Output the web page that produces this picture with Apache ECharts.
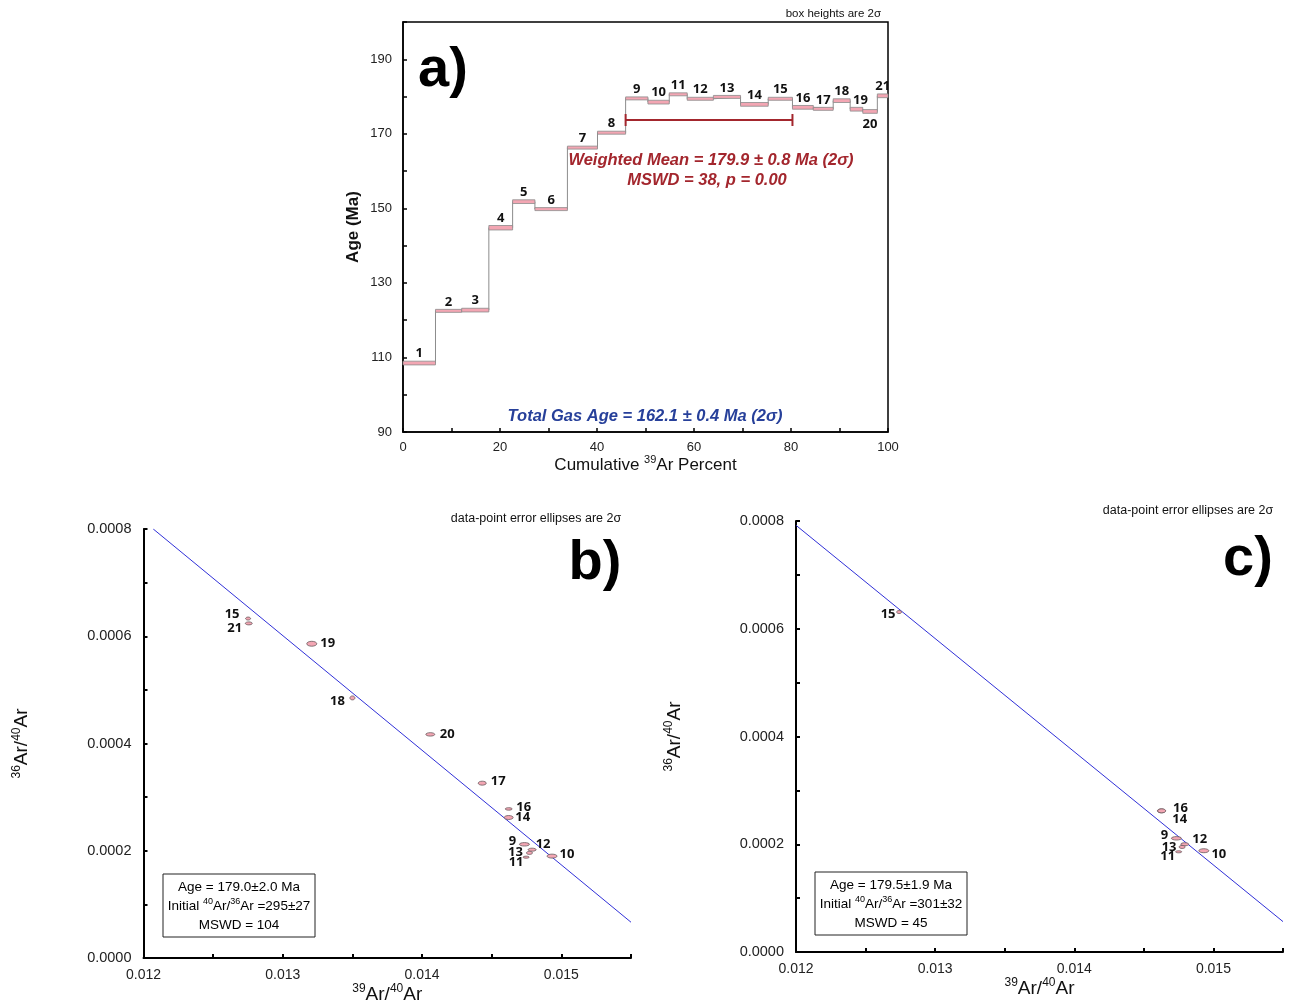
<!DOCTYPE html>
<html>
<head>
<meta charset="utf-8">
<title>Ar-Ar step heating and isochrons</title>
<script src="https://cdn.jsdelivr.net/npm/echarts@6.0.0/dist/echarts.min.js"></script>
<style>
  html, body { margin: 0; padding: 0; background: #fff; }
  #chart { width: 1293px; height: 1005px; }
</style>
</head>
<body>
<div id="chart"></div>
<script>
// ---- a) age spectrum ----
const stepNumbers = [1, 2, 3, 4, 5, 6, 7, 8, 9, 10, 11, 12, 13, 14, 15, 16, 17, 18, 19, 20, 21];
// cumulative 39Ar percent at step edges (22 values)
const cumPercent = [0, 6.7, 12.1, 17.7, 22.6, 27.2, 33.9, 40.1, 45.9, 50.5, 54.9, 58.6, 64.0, 69.6, 75.3, 80.3, 84.6, 88.7, 92.2, 94.8, 97.8, 100];
const stepAges = [108.5, 122.5, 122.7, 144.8, 151.8, 149.8, 166.3, 170.3, 179.5, 178.5, 180.6, 179.4, 179.9, 177.9, 179.4, 177.1, 176.7, 178.9, 176.6, 176.0, 180.2];
const stepErr2s = [0.5, 0.4, 0.5, 0.6, 0.5, 0.4, 0.4, 0.4, 0.4, 0.5, 0.4, 0.4, 0.4, 0.5, 0.4, 0.5, 0.4, 0.5, 0.5, 0.5, 0.5];
const plateauSteps = [9, 15];
const plateauBarAge = 173.7;

// ---- b) inverse isochron, all steps ----
const isoBSteps = [15, 21, 19, 18, 20, 17, 16, 14, 9, 12, 13, 11, 10];
const isoBx = [0.012751, 0.012756, 0.013208, 0.013500, 0.014059, 0.014432, 0.014622, 0.014622, 0.014735, 0.014790, 0.014771, 0.014747, 0.014933];
const isoBy = [0.000633, 0.000624, 0.000586, 0.000485, 0.000417, 0.000326, 0.000278, 0.000262, 0.000212, 0.000202, 0.000196, 0.000188, 0.000190];
const isoBsx = [0.000018, 0.000025, 0.000036, 0.000018, 0.000032, 0.000029, 0.000025, 0.000032, 0.000036, 0.000029, 0.000022, 0.000022, 0.000036];
const isoBsy = [0.0000028, 0.0000028, 0.0000046, 0.0000037, 0.0000032, 0.0000037, 0.0000023, 0.0000037, 0.0000032, 0.0000028, 0.0000028, 0.0000019, 0.0000037];
const fitBx = [0.01207, 0.0155];
const fitBy = [0.000800, 0.0000667];

// ---- c) inverse isochron, selected steps ----
const isoCSteps = [15, 16, 14, 9, 12, 13, 11, 10];
const isoCx = [0.012741, 0.014626, 0.014628, 0.014734, 0.014794, 0.014775, 0.014750, 0.014931];
const isoCy = [0.000631, 0.000262, 0.000262, 0.000211, 0.000200, 0.000195, 0.000186, 0.000188];
const isoCsx = [0.000018, 0.000029, 0.000029, 0.000036, 0.000029, 0.000022, 0.000022, 0.000036];
const isoCsy = [0.0000028, 0.0000037, 0.0000037, 0.0000032, 0.0000028, 0.0000028, 0.0000019, 0.0000037];
const fitCx = [0.012, 0.0155];
const fitCy = [0.000792, 0.0000564];

// label offsets in pixels (styling only)
const labelOffB = { 15: [-16, -4], 21: [-14, 5], 19: [16, 0], 18: [-15, 3], 20: [17, 0], 17: [16, -2],
  16: [15, -2], 14: [14, 0], 9: [-12, -3], 12: [11, -5], 13: [-14, -1], 11: [-10, 5], 10: [15, -2] };
const labelOffC = { 15: [-11, 2], 16: [19, -3], 14: [18, 8], 9: [-12, -3], 12: [15, -5], 13: [-13, 0],
  11: [-11, 5], 10: [15, 4] };

const SANS = '"Liberation Sans", Arial, sans-serif';
const NUMFONT = 'bold 13px "Open Sans", "Noto Sans", sans-serif';
const PINK = '#f3a6b3';

const chart = echarts.init(document.getElementById('chart'));

const supRich = (size) => ({
  n: { fontSize: size, fontFamily: SANS, color: '#111', lineHeight: size + 4, verticalAlign: 'middle' },
  s: { fontSize: Math.round(size * 0.64), fontFamily: SANS, color: '#111', verticalAlign: 'top' }
});

function isoSeries(idx, steps, xs, ys, sxs, sys, offs) {
  return {
    type: 'custom',
    xAxisIndex: idx,
    yAxisIndex: idx,
    z: 5,
    data: steps.map((s, i) => [xs[i], ys[i], sxs[i], sys[i], s]),
    renderItem(params, api) {
      const c = api.coord([api.value(0), api.value(1)]);
      const sz = api.size([api.value(2), api.value(3)]);
      const step = api.value(4);
      const off = offs[step] || [14, 0];
      return {
        type: 'group',
        children: [
          { type: 'ellipse', shape: { cx: c[0], cy: c[1], rx: sz[0], ry: sz[1] },
            style: { fill: PINK, stroke: '#6a5a5e', lineWidth: 0.8 } },
          { type: 'text', style: { x: c[0] + off[0], y: c[1] + off[1], text: String(step),
            align: 'center', verticalAlign: 'middle', font: NUMFONT, fill: '#111' } }
        ]
      };
    }
  };
}

function isoXAxis(idx) {
  return {
    gridIndex: idx, type: 'value', min: 0.012, max: 0.0155, interval: 0.0005,
    axisLine: { lineStyle: { color: '#000', width: 2 } },
    axisTick: { inside: true, length: 4, lineStyle: { color: '#000', width: 2 } },
    splitLine: { show: false },
    axisLabel: { margin: 10, fontSize: 14, fontFamily: SANS, color: '#222',
      formatter: v => Math.abs(v * 1000 - Math.round(v * 1000)) < 1e-6 ? v.toFixed(3) : '' },
    name: '{s|39}{n|Ar/}{s|40}{n|Ar}', nameLocation: 'middle', nameGap: 25,
    nameTextStyle: { rich: supRich(19) }
  };
}

function isoYAxis(idx) {
  return {
    gridIndex: idx, type: 'value', min: 0, max: 0.0008, interval: 0.0001,
    axisLine: { lineStyle: { color: '#000', width: 2 } },
    axisTick: { inside: true, length: 4, lineStyle: { color: '#000', width: 2 } },
    splitLine: { show: false },
    axisLabel: { margin: 12, fontSize: 14.5, fontFamily: SANS, color: '#222',
      formatter: v => Math.abs(v * 5000 - Math.round(v * 5000)) < 1e-6 ? v.toFixed(4) : '' },
    name: '{s|36}{n|Ar/}{s|40}{n|Ar}', nameLocation: 'middle', nameGap: 110,
    nameTextStyle: { rich: supRich(19) }
  };
}

const boxText = (x, y, lines) => ({
  type: 'group',
  children: [
    { type: 'rect', shape: { x: x, y: y, width: 152, height: 63 },
      style: { fill: '#fff', stroke: '#222', lineWidth: 1 } }
  ].concat(lines.map((t, i) => ({
    type: 'text', x: x + 76, y: y + 13 + i * 19,
    style: { text: t, rich: supRich(13.5), align: 'center', verticalAlign: 'middle' }
  })))
});

const option = {
  animation: false,
  backgroundColor: '#fff',
  grid: [
    { left: 403, top: 22, width: 485, height: 410, show: true, borderColor: '#000', borderWidth: 1.5 },
    { left: 143.5, top: 529, width: 487.5, height: 432 },
    { left: 796, top: 521, width: 487, height: 431 }
  ],
  xAxis: [
    {
      gridIndex: 0, type: 'value', min: 0, max: 100, interval: 10,
      axisLine: { lineStyle: { color: '#000', width: 1.5 } },
      axisTick: { inside: true, length: 4, lineStyle: { color: '#000', width: 1.5 } },
      splitLine: { show: false },
      axisLabel: { margin: 9, fontSize: 13, fontFamily: SANS, color: '#222',
        formatter: v => v % 20 === 0 ? String(v) : '' },
      name: '{n|Cumulative }{s|39}{n|Ar Percent}', nameLocation: 'middle', nameGap: 22,
      nameTextStyle: { rich: supRich(17) }
    },
    isoXAxis(1),
    isoXAxis(2)
  ],
  yAxis: [
    {
      gridIndex: 0, type: 'value', min: 90, max: 200, interval: 10,
      axisLine: { lineStyle: { color: '#000', width: 1.5 } },
      axisTick: { inside: true, length: 4, lineStyle: { color: '#000', width: 1.5 } },
      splitLine: { show: false },
      axisLabel: { margin: 11, fontSize: 13, fontFamily: SANS, color: '#222',
        formatter: v => ((v - 90) % 20 === 0 && v < 200) ? String(v) : '' },
      name: 'Age (Ma)', nameLocation: 'middle', nameGap: 41,
      nameTextStyle: { fontSize: 17, fontWeight: 'bold', fontFamily: SANS, color: '#111' }
    },
    isoYAxis(1),
    isoYAxis(2)
  ],
  series: [
    // step outline
    {
      type: 'line', xAxisIndex: 0, yAxisIndex: 0, symbol: 'none', z: 2,
      lineStyle: { color: '#8c8c8c', width: 1 },
      data: stepAges.flatMap((a, i) => [[cumPercent[i], a], [cumPercent[i + 1], a]])
    },
    // step boxes and numbers
    {
      type: 'custom', xAxisIndex: 0, yAxisIndex: 0, z: 3,
      data: stepNumbers.map((s, i) => [cumPercent[i], cumPercent[i + 1], stepAges[i], stepErr2s[i], s]),
      renderItem(params, api) {
        const p0 = api.coord([api.value(0), api.value(2) + api.value(3)]);
        const p1 = api.coord([api.value(1), api.value(2) - api.value(3)]);
        const step = api.value(4);
        const below = step === 20;
        const dx = step === 19 ? 4 : 0;
        return {
          type: 'group',
          children: [
            { type: 'rect', shape: { x: p0[0], y: p0[1], width: p1[0] - p0[0], height: p1[1] - p0[1] },
              style: { fill: PINK, stroke: '#8c8c8c', lineWidth: 0.8 } },
            { type: 'text', style: { x: (p0[0] + p1[0]) / 2 + dx, y: below ? p1[1] + 4 : p0[1] - 1,
              text: String(step), align: 'center', verticalAlign: below ? 'top' : 'bottom',
              font: NUMFONT, fill: '#111' } }
          ]
        };
      }
    },
    // plateau bar
    {
      type: 'custom', xAxisIndex: 0, yAxisIndex: 0, z: 4,
      data: [[cumPercent[plateauSteps[0] - 1], cumPercent[plateauSteps[1]], plateauBarAge]],
      renderItem(params, api) {
        const a = api.coord([api.value(0), api.value(2)]);
        const b = api.coord([api.value(1), api.value(2)]);
        const st = { stroke: '#a3262d', lineWidth: 2 };
        return {
          type: 'group',
          children: [
            { type: 'line', shape: { x1: a[0], y1: a[1], x2: b[0], y2: b[1] }, style: st },
            { type: 'line', shape: { x1: a[0], y1: a[1] - 6, x2: a[0], y2: a[1] + 6 }, style: st },
            { type: 'line', shape: { x1: b[0], y1: b[1] - 6, x2: b[0], y2: b[1] + 6 }, style: st }
          ]
        };
      }
    },
    // isochron fits
    {
      type: 'line', xAxisIndex: 1, yAxisIndex: 1, symbol: 'none', z: 2,
      lineStyle: { color: '#3030d8', width: 1 },
      data: fitBx.map((x, i) => [x, fitBy[i]])
    },
    {
      type: 'line', xAxisIndex: 2, yAxisIndex: 2, symbol: 'none', z: 2,
      lineStyle: { color: '#3030d8', width: 1 },
      data: fitCx.map((x, i) => [x, fitCy[i]])
    },
    isoSeries(1, isoBSteps, isoBx, isoBy, isoBsx, isoBsy, labelOffB),
    isoSeries(2, isoCSteps, isoCx, isoCy, isoCsx, isoCsy, labelOffC)
  ],
  graphic: [
    { type: 'text', x: 881, y: 14, style: { text: 'box heights are 2σ', font: '11.5px ' + SANS, fill: '#111', align: 'right', verticalAlign: 'middle' } },
    { type: 'text', x: 418, y: 71, style: { text: 'a)', font: 'bold 56px ' + SANS, fill: '#000', align: 'left', verticalAlign: 'middle' } },
    { type: 'text', x: 711, y: 160, style: { text: 'Weighted Mean = 179.9 ± 0.8 Ma (2σ)', font: 'italic bold 16.5px ' + SANS, fill: '#a3262d', align: 'center', verticalAlign: 'middle' } },
    { type: 'text', x: 707, y: 180, style: { text: 'MSWD = 38, p = 0.00', font: 'italic bold 16.5px ' + SANS, fill: '#a3262d', align: 'center', verticalAlign: 'middle' } },
    { type: 'text', x: 645, y: 416, style: { text: 'Total Gas Age = 162.1 ± 0.4 Ma (2σ)', font: 'italic bold 16.5px ' + SANS, fill: '#27409a', align: 'center', verticalAlign: 'middle' } },

    { type: 'text', x: 536, y: 519, style: { text: 'data-point error ellipses are 2σ', font: '12.5px ' + SANS, fill: '#111', align: 'center', verticalAlign: 'middle' } },
    { type: 'text', x: 595, y: 564, style: { text: 'b)', font: 'bold 56px ' + SANS, fill: '#000', align: 'center', verticalAlign: 'middle' } },
    boxText(163, 874, ['{n|Age = 179.0±2.0 Ma}', '{n|Initial }{s|40}{n|Ar/}{s|36}{n|Ar =295±27}', '{n|MSWD = 104}']),

    { type: 'text', x: 1188, y: 511, style: { text: 'data-point error ellipses are 2σ', font: '12.5px ' + SANS, fill: '#111', align: 'center', verticalAlign: 'middle' } },
    { type: 'text', x: 1248, y: 560, style: { text: 'c)', font: 'bold 56px ' + SANS, fill: '#000', align: 'center', verticalAlign: 'middle' } },
    boxText(815, 872, ['{n|Age = 179.5±1.9 Ma}', '{n|Initial }{s|40}{n|Ar/}{s|36}{n|Ar =301±32}', '{n|MSWD = 45}'])
  ]
};

chart.setOption(option);
</script>
</body>
</html>
